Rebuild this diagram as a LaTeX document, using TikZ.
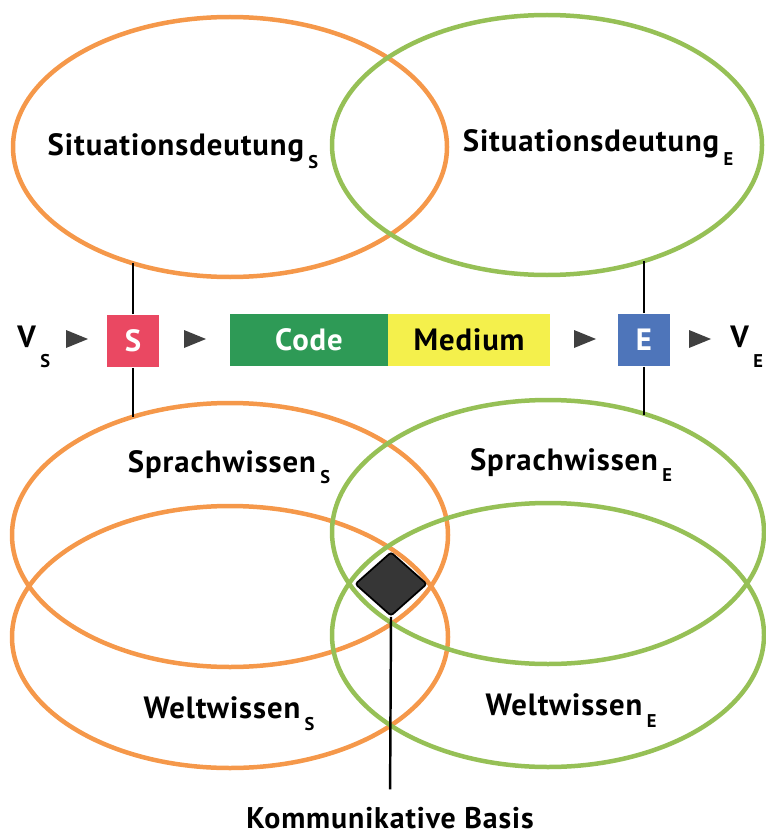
\documentclass[tikz,border=0pt]{standalone}
\usepackage{fontspec}
\setmainfont{PT Sans}
\usepackage{tikz}
\usetikzlibrary{shapes.geometric}
\definecolor{orangeS}{RGB}{245,152,74}
\definecolor{greenE}{RGB}{150,192,86}
\definecolor{boxS}{RGB}{234,72,98}
\definecolor{boxE}{RGB}{78,117,186}
\definecolor{codegreen}{RGB}{46,154,86}
\definecolor{mediumyellow}{RGB}{244,240,76}
\definecolor{tridark}{RGB}{64,64,64}
\newcommand\subidx[2][12]{\hspace{2.5pt}\raisebox{-#1\dimexpr0.02cm\relax}{\fontsize{10.5}{11}\selectfont #2}}

\begin{document}
\begin{tikzpicture}[x=0.02cm,y=-0.02cm,
  lbl/.style={font=\fontsize{17.5}{19}\selectfont\bfseries\addfontfeature{LetterSpace=3}, inner sep=0pt, anchor=base},
  knowS/.style={line width=0.09cm, color=orangeS},
  knowE/.style={line width=0.09cm, color=greenE},
  stem/.style={line width=1.4pt, color=black},
  boxnode/.style={minimum width=1.04cm, minimum height=1.06cm, inner sep=0pt,
    font=\fontsize{17.5}{19}\selectfont\bfseries\addfontfeature{LetterSpace=3}, text=white}]
\useasboundingbox (0,0) rectangle (766,838);
% ellipses sender / receiver
 \draw[knowS] (230,147) ellipse [x radius=217, y radius=130];
 \draw[knowE] (547,145) ellipse [x radius=215, y radius=130];
 \draw[knowS] (230,535) ellipse [x radius=218, y radius=132];
 \draw[knowS] (230,637) ellipse [x radius=218, y radius=131];
 \draw[knowE] (548,532) ellipse [x radius=216, y radius=132];
 \draw[knowE] (548,635) ellipse [x radius=216, y radius=132];
% labels
 \node[lbl] (sitS) at (183,155) {Situationsdeutung\subidx[13]{S}};
 \node[lbl] (sitE) at (598,152) {Situationsdeutung\subidx[13]{E}};
 \node[lbl] (sprS) at (229,472) {Sprachwissen\subidx[11]{S}};
 \node[lbl] (sprE) at (571,470) {Sprachwissen\subidx[11]{E}};
 \node[lbl] (welS) at (229,718) {Weltwissen\subidx[12]{S}};
 \node[lbl] (welE) at (571,715) {Weltwissen\subidx[12]{E}};
% transmission row
 \node[boxnode, fill=boxS] (S) at (133,341) {S};
 \node[boxnode, fill=boxE] (E) at (644,340) {E};
 \node[boxnode, fill=codegreen, minimum width=3.16cm] (code) at (309,340) {Code};
 \node[boxnode, fill=mediumyellow, minimum width=3.24cm, text=black] (medium) at (469,340) {Medium};
 \node[lbl, anchor=base west] (vS) at (17,347) {V\subidx[20]{S}};
 \node[lbl, anchor=base west] (vE) at (730,347) {V\subidx[20]{E}};
 \foreach \x in {77,195,585,700}
   \fill[tridark] (\x-11,330) -- (\x+11,339) -- (\x-11,348) -- cycle;
% stems to the ellipses
 \coordinate (sTop) at (133,263);
 \coordinate (sBot) at (133,417);
 \coordinate (eTop) at (644,261);
 \coordinate (eBot) at (644,415);
 \draw[stem] (S.north) -- (sTop);
 \draw[stem] (S.south) -- (sBot);
 \draw[stem] (E.north) -- (eTop);
 \draw[stem] (E.south) -- (eBot);
% common basis
 \node[diamond, draw=black, line width=1pt, fill=tridark!85!black, rounded corners=1.5pt,
   minimum width=1.44cm, minimum height=1.28cm, inner sep=0pt] (kb) at (391,584) {};
 \node[lbl, font=\fontsize{17}{19}\selectfont\bfseries\addfontfeature{LetterSpace=3}] (kbl) at (390,828) {Kommunikative Basis};
 \draw[stem, shorten >=0.34cm] (kb.south) -- (kbl.north);
\end{tikzpicture}
\end{document}
